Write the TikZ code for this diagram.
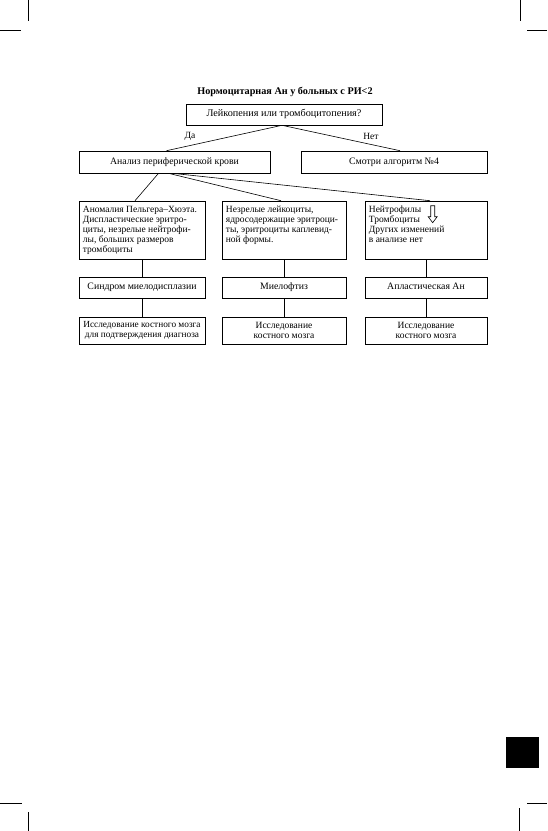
\documentclass[tikz,border=0pt]{standalone}
\usepackage{fontspec}
\setmainfont{Liberation Serif}
\begin{document}
\begin{tikzpicture}[x=1pt,y=-1pt,
  box/.style={draw,line width=0.6pt,inner sep=0pt,rectangle},
  one/.style={font=\fontsize{9.8}{10}\selectfont,text height=6.8pt,text depth=2pt},
  txt/.style={font=\fontsize{9.5}{10}\selectfont,inner sep=0pt,align=left},
  ctxt/.style={font=\fontsize{9.5}{10.5}\selectfont,inner sep=0pt,align=center},
  conn/.style={line width=0.6pt},
  crop/.style={line width=0.9pt}]
\useasboundingbox (0,0) rectangle (547,831);
% crop marks
\draw[crop] (28,0) -- (28,21);
\draw[crop] (0,30) -- (21,30);
\draw[crop] (520,0) -- (520,21);
\draw[crop] (527,30) -- (547,30);
\draw[crop] (0,803) -- (22,803);
\draw[crop] (28,812) -- (28,831);
\draw[crop] (527,803) -- (547,803);
\draw[crop] (519,808) -- (519,831);
\fill (506,737) rectangle (539,768);

% title
\node[font=\bfseries\fontsize{10.2}{11}\selectfont,inner sep=0pt] (title) at (285,92) {Нормоцитарная Ан у больных с РИ<2};
\node[box,one,minimum width=196,minimum height=21,font=\fontsize{10.2}{11}\selectfont] (q) at (284,114.5) {Лейкопения или тромбоцитопения?};

\node[ctxt] (da) at (190,136) {Да};
\node[ctxt] (net) at (371,136) {Нет};

% row 1
\node[box,one,minimum width=191,minimum height=22] (a) at (174.5,162) {Анализ периферической крови};
\node[box,one,minimum width=186,minimum height=22] (s) at (394,162) {Смотри алгоритм №4};

% row 2
\node[box,minimum width=126,minimum height=58] (b1) at (142,230) {};
\node[box,minimum width=124,minimum height=58] (b2) at (284,230) {};
\node[box,minimum width=122,minimum height=58] (b3) at (426,230) {};
\node[txt,anchor=north west] (t1) at ([shift={(4,5)}]b1.north west) {Аномалия Пельгера–Хюэта.\\Диспластические эритро-\\циты, незрелые нейтрофи-\\лы, больших размеров\\тромбоциты};
\node[txt,anchor=north west] (t2) at ([shift={(4,5)}]b2.north west) {Незрелые лейкоциты,\\ядросодержащие эритроци-\\ты, эритроциты каплевид-\\ной формы.};
\node[txt,anchor=north west] (t3) at ([shift={(4,5)}]b3.north west) {Нейтрофилы\\Тромбоциты\\Других изменений\\в анализе нет};
\draw[line width=0.6pt] ([shift={(66,5)}]b3.north west) -- ++(4,0) -- ++(0,11) -- ++(2.5,0) -- ++(-4.5,6) -- ++(-4.5,-6) -- ++(2.5,0) -- cycle;

% row 3
\node[box,one,minimum width=126,minimum height=21] (c1) at (142,287.5) {Синдром миелодисплазии};
\node[box,one,minimum width=124,minimum height=21] (c2) at (284,287.5) {Миелофтиз};
\node[box,one,minimum width=122,minimum height=21] (c3) at (426,287.5) {Апластическая Ан};

% row 4
\node[box,minimum width=126,minimum height=27,ctxt,font=\fontsize{9.3}{10.5}\selectfont] (d1) at (142,330.5) {Исследование костного мозга\\для подтверждения диагноза};
\node[box,minimum width=124,minimum height=27,ctxt] (d2) at (284,330.5) {Исследование\\костного мозга};
\node[box,minimum width=122,minimum height=27,ctxt] (d3) at (426,330.5) {Исследование\\костного мозга};

% connectors
\draw[conn] ([xshift=-2]q.south) -- ([xshift=-8]a.north);
\draw[conn] ([xshift=-2]q.south) -- ([xshift=6]s.north);
\draw[conn] ([xshift=-16]a.south) -- ([xshift=-7]b1.north);
\draw[conn] ([xshift=-6]a.south) -- ([xshift=-3]b2.north);
\draw[conn] ([xshift=-2]a.south) -- ([xshift=4]b3.north);
\draw[conn] (b1.south) -- (c1.north);
\draw[conn] (b2.south) -- (c2.north);
\draw[conn] (b3.south) -- (c3.north);
\draw[conn] (c1.south) -- (d1.north);
\draw[conn] (c2.south) -- (d2.north);
\draw[conn] (c3.south) -- (d3.north);
\end{tikzpicture}
\end{document}
